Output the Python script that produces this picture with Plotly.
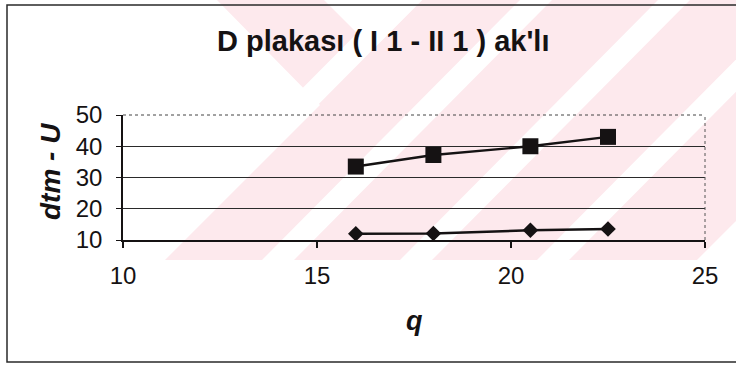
import plotly.graph_objects as go

# ---- data ----
q_values = [16, 18, 20.5, 22.5]
square_series = [33.5, 37.2, 40.0, 43.0]
diamond_series = [12.0, 12.1, 13.1, 13.5]
x_ticks = [10, 15, 20, 25]
y_ticks = [10, 20, 30, 40, 50]
title_text = "D plakası ( I 1 - II 1 ) ak'lı"
x_title = "q"
y_title = "dtm - U"

W, H = 736, 365
L, R, T, B = 123, 705, 115, 240  # plot area in pixels


def X(px):
    return (px - L) / (R - L)


def Y(py):
    return (B - py) / (B - T)


INK = "#151213"
PINK = "#fde9ed"

fig = go.Figure()
fig.add_trace(go.Scatter(
    x=q_values, y=square_series, mode="lines+markers",
    line=dict(color=INK, width=2.4),
    marker=dict(symbol="square", size=16, color=INK),
    showlegend=False,
))
fig.add_trace(go.Scatter(
    x=q_values, y=diamond_series, mode="lines+markers",
    line=dict(color=INK, width=2.4),
    marker=dict(symbol="diamond", size=12, color=INK),
    showlegend=False,
))

shapes = []
# watermark: pink envelope
pink_poly = [(215, -2), (740, -2), (740, 217), (697, 260), (165, 260), (320, 105)]
path = "M " + " L ".join(f"{X(a):.5f},{Y(b):.5f}" for a, b in pink_poly) + " Z"
shapes.append(dict(type="path", xref="paper", yref="paper", path=path,
                   fillcolor=PINK, line=dict(width=0), layer="below"))
# white notch
notch = [(322, -2), (424, -2), (373, 49)]
path = "M " + " L ".join(f"{X(a):.5f},{Y(b):.5f}" for a, b in notch) + " Z"
shapes.append(dict(type="path", xref="paper", yref="paper", path=path,
                   fillcolor="white", line=dict(width=0), layer="below"))
# white diagonal stripes
for x0 in [392, 522, 660, 797]:
    w = 32
    pts = [(x0, -2), (x0 + w, -2), (x0 + w - 262, 262), (x0 - 262, 262)]
    path = "M " + " L ".join(f"{X(a):.5f},{Y(b):.5f}" for a, b in pts) + " Z"
    shapes.append(dict(type="path", xref="paper", yref="paper", path=path,
                       fillcolor="white", line=dict(width=0), layer="below"))
# outer chart frame
shapes.append(dict(type="rect", xref="paper", yref="paper",
                   x0=X(7), x1=X(745), y0=Y(362), y1=Y(5),
                   line=dict(color="#2a2a2a", width=1.5), layer="below"))
# plot area top & right border
shapes.append(dict(type="line", xref="paper", yref="paper",
                   x0=0, x1=1, y0=1, y1=1,
                   line=dict(color="#444", width=1, dash="dot")))
shapes.append(dict(type="line", xref="paper", yref="paper",
                   x0=1, x1=1, y0=0, y1=1,
                   line=dict(color="#555", width=1, dash="dot")))

annotations = [
    dict(text=f"<b>{title_text}</b>", xref="paper", yref="paper",
         x=X(383), y=Y(41), showarrow=False, xanchor="center", yanchor="middle",
         font=dict(family="Liberation Sans, Arial", size=29, color=INK)),
    dict(text=f"<b><i>{x_title}</i></b>", xref="paper", yref="paper",
         x=X(414), y=Y(321), showarrow=False, xanchor="center", yanchor="middle",
         font=dict(family="Liberation Sans, Arial", size=27, color=INK)),
    dict(text=f"<b><i>{y_title}</i></b>", xref="paper", yref="paper",
         x=X(50), y=Y(172), showarrow=False, xanchor="center", yanchor="middle",
         textangle=-90,
         font=dict(family="Liberation Sans, Arial", size=28, color=INK)),
]

fig.update_layout(
    width=W, height=H,
    margin=dict(l=L, r=W - R, t=T, b=H - B, pad=0),
    paper_bgcolor="white", plot_bgcolor="rgba(0,0,0,0)",
    shapes=shapes, annotations=annotations,
    font=dict(family="Liberation Sans, Arial", color=INK),
)
fig.update_xaxes(
    range=[10, 25], tickvals=x_ticks, ticktext=[str(v) for v in x_ticks],
    showgrid=False, zeroline=False, showline=True, linecolor=INK, linewidth=1.5,
    ticks="outside", ticklen=6, tickwidth=1.5, tickcolor=INK,
    tickfont=dict(size=24, color=INK), ticklabelstandoff=7, automargin=False,
)
fig.update_yaxes(
    range=[10, 50], tickvals=y_ticks, ticktext=[str(v) for v in y_ticks],
    showgrid=True, gridcolor="#2a2a2a", gridwidth=1, zeroline=False,
    showline=True, linecolor=INK, linewidth=1.5,
    ticks="outside", ticklen=5, tickwidth=1, tickcolor=INK,
    tickfont=dict(size=24, color=INK), ticklabelstandoff=9, automargin=False,
)

fig.write_html("out.html", config={"displayModeBar": False},
               post_script="document.body.style.margin='0';document.body.style.overflow='hidden';")
